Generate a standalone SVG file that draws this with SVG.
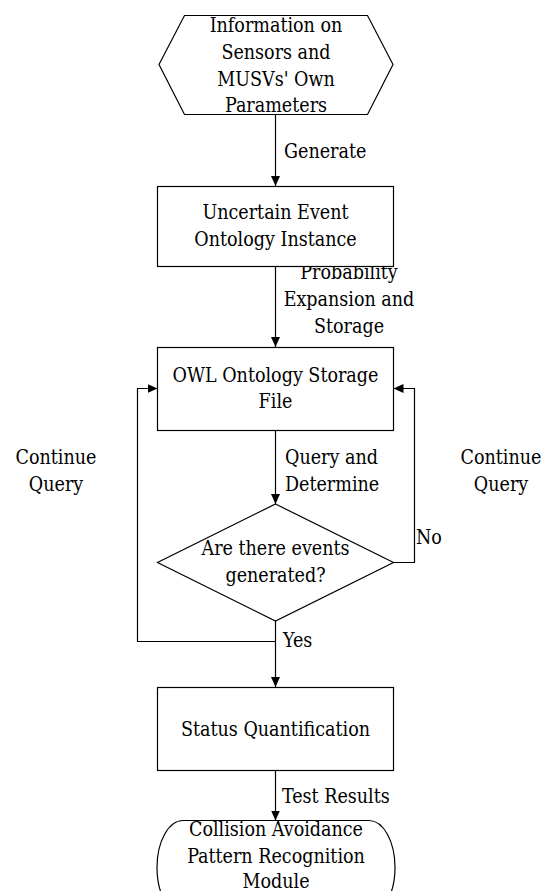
<svg xmlns="http://www.w3.org/2000/svg" width="544" height="891" viewBox="0 0 544 891">
  <style>
    .shape { fill: #ffffff; stroke: #000000; stroke-width: 1.2; }
    .wire { fill: none; stroke: #000000; stroke-width: 1.2; }
    text { font-family: 'DejaVu Serif Condensed', 'DejaVu Serif', serif; font-stretch: condensed; font-size: 19.5px; fill: #000000; }
    .c { text-anchor: middle; }
  </style>
  <defs>
    <marker id="arrow" viewBox="0 0 10 10" refX="10" refY="5" markerWidth="10" markerHeight="10" markerUnits="userSpaceOnUse" orient="auto">
      <path d="M0,0.5 L10,5 L0,9.5 Z" fill="#000000"/>
    </marker>
  </defs>
  <rect width="544" height="891" fill="#ffffff"/>

  <g id="connectors">
    <line class="wire" x1="275.5" y1="114.5" x2="275.5" y2="186" marker-end="url(#arrow)"/>
    <line class="wire" x1="275.5" y1="266.5" x2="275.5" y2="347" marker-end="url(#arrow)"/>
    <line class="wire" x1="275.5" y1="430.5" x2="275.5" y2="504" marker-end="url(#arrow)"/>
    <line class="wire" x1="275.5" y1="621" x2="275.5" y2="687" marker-end="url(#arrow)"/>
    <polyline class="wire" points="275.5,641.5 137.5,641.5 137.5,388.5 157.5,388.5" marker-end="url(#arrow)"/>
    <polyline class="wire" points="393.5,562.5 414.5,562.5 414.5,388.5 393.5,388.5" marker-end="url(#arrow)"/>
    <line class="wire" x1="275.5" y1="770.5" x2="275.5" y2="820.5" marker-end="url(#arrow)"/>
    <text x="284" y="158">Generate</text>
    <text class="c" x="349" y="279">Probability</text>
    <text class="c" x="349" y="306">Expansion and</text>
    <text class="c" x="349" y="333">Storage</text>
    <text x="285" y="464">Query and</text>
    <text x="285" y="491">Determine</text>
    <text class="c" x="56" y="464">Continue</text>
    <text class="c" x="56" y="491">Query</text>
    <text class="c" x="501" y="464">Continue</text>
    <text class="c" x="501" y="491">Query</text>
    <text x="416" y="544">No</text>
    <text x="283" y="647">Yes</text>
    <text x="282" y="803">Test Results</text>
  </g>

  <g id="node-info">
    <polygon class="shape" points="184.5,15.5 367.5,15.5 393,64.5 367.5,114.5 184.5,114.5 159,64.5"/>
    <text class="c" x="276" y="32">Information on</text>
    <text class="c" x="276" y="59">Sensors and</text>
    <text class="c" x="276" y="86">MUSVs' Own</text>
    <text class="c" x="276" y="112">Parameters</text>
  </g>

  <g id="node-instance">
    <rect class="shape" x="157.5" y="186.5" width="236" height="80"/>
    <text class="c" x="275.5" y="219">Uncertain Event</text>
    <text class="c" x="275.5" y="246">Ontology Instance</text>
  </g>

  <g id="node-owl">
    <rect class="shape" x="157.5" y="347.5" width="236" height="83"/>
    <text class="c" x="275.5" y="382">OWL Ontology Storage</text>
    <text class="c" x="275.5" y="408">File</text>
  </g>

  <g id="node-decision">
    <polygon class="shape" points="275.5,504 393.5,562.5 275.5,621 157.5,562.5"/>
    <text class="c" x="275.5" y="555">Are there events</text>
    <text class="c" x="275.5" y="582">generated?</text>
  </g>

  <g id="node-status">
    <rect class="shape" x="157.5" y="687.5" width="236" height="83"/>
    <text class="c" x="275.5" y="736">Status Quantification</text>
  </g>

  <g id="node-module">
    <path class="shape" d="M183,820.5 H369 A26,47 0 0 1 369,914.5 H183 A26,47 0 0 1 183,820.5 Z"/>
    <text class="c" x="276" y="836">Collision Avoidance</text>
    <text class="c" x="276" y="863">Pattern Recognition</text>
    <text class="c" x="276" y="888">Module</text>
  </g>
</svg>
